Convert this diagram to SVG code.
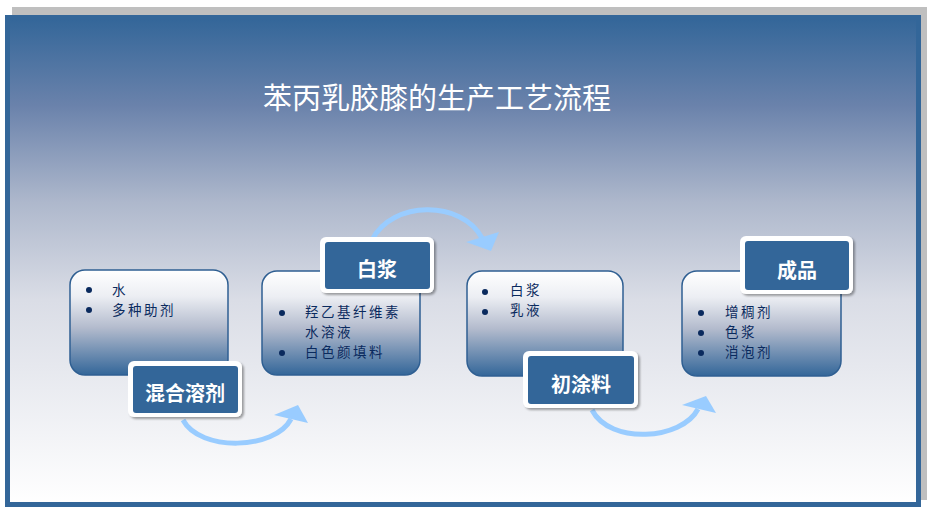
<svg xmlns="http://www.w3.org/2000/svg" width="927" height="512" viewBox="0 0 927 512">
<defs>
<linearGradient id="bg" x1="0" y1="0" x2="0" y2="1">
<stop offset="0" stop-color="#336699"/>
<stop offset="0.18" stop-color="#6a82ab"/>
<stop offset="0.38" stop-color="#aeb8cc"/>
<stop offset="0.58" stop-color="#dadde6"/>
<stop offset="1" stop-color="#ffffff"/>
</linearGradient>
<linearGradient id="box" x1="0" y1="0" x2="0" y2="1">
<stop offset="0" stop-color="#ffffff"/>
<stop offset="0.25" stop-color="#eceef3"/>
<stop offset="0.55" stop-color="#b3bbcd"/>
<stop offset="1" stop-color="#336699"/>
</linearGradient>
<filter id="sh" x="-10%" y="-10%" width="130%" height="130%">
<feDropShadow dx="2" dy="2" stdDeviation="1" flood-color="#000" flood-opacity="0.35"/>
</filter>
</defs>
<style>
.content{fill:url(#box);stroke:#2f5f92;stroke-width:1.5}
.lblout{fill:#ffffff;filter:url(#sh)}
.lblin{fill:#336699}
.lbl{font-family:"Noto Sans CJK SC",sans-serif;font-size:20px;font-weight:bold;fill:#ffffff;text-anchor:middle}
.item{font-family:"Noto Sans CJK SC",sans-serif;font-size:13.5px;letter-spacing:2.5px;fill:#0a2a5e}
.dot{fill:#0a2a5e}
.arc{fill:none;stroke:#99ccff;stroke-width:5}
.head{fill:#99ccff}
</style>
<rect x="12" y="7" width="915" height="493" fill="#bfbfbf"/>
<rect x="7.5" y="17.5" width="911" height="487" fill="url(#bg)" stroke="#336699" stroke-width="5"/>
<text x="437" y="109" font-family="Noto Sans CJK SC, sans-serif" font-size="29" fill="#ffffff" text-anchor="middle">苯丙乳胶膝的生产工艺流程</text>

<g id="connectors">
<path class="arc" d="M183,420 C200,452 275,450 291,419"/>
<polygon class="head" points="274,415 298,405 308,423"/>
<path class="arc" d="M372,240 C392,200 462,200 482,238"/>
<polygon class="head" points="466,242 499,232 491,251"/>
<path class="arc" d="M592,410 C610,445 682,440 698,409"/>
<polygon class="head" points="682,405 706,396 716,413"/>
</g>

<g id="node1">
<rect class="content" x="70" y="270" width="158" height="105" rx="15"/>
<circle class="dot" cx="89" cy="290" r="3"/>
<circle class="dot" cx="89" cy="310" r="3"/>
<text class="item" x="112" y="295">水</text>
<text class="item" x="112" y="315">多种助剂</text>
<rect class="lblout" x="128" y="361" width="114" height="56" rx="6"/>
<rect class="lblin" x="133" y="366" width="105" height="47" rx="3"/>
<text class="lbl" x="185" y="401">混合溶剂</text>
</g>

<g id="node2">
<rect class="content" x="262" y="271" width="158" height="104" rx="15"/>
<circle class="dot" cx="282" cy="313" r="3"/>
<circle class="dot" cx="282" cy="353" r="3"/>
<text class="item" x="305" y="317">羟乙基纤维素</text>
<text class="item" x="305" y="337">水溶液</text>
<text class="item" x="305" y="357">白色颜填料</text>
<rect class="lblout" x="320" y="237" width="114" height="56" rx="6"/>
<rect class="lblin" x="325" y="242" width="105" height="47" rx="3"/>
<text class="lbl" x="377" y="277">白浆</text>
</g>

<g id="node3">
<rect class="content" x="467" y="271" width="156" height="105" rx="15"/>
<circle class="dot" cx="485" cy="292" r="3"/>
<circle class="dot" cx="485" cy="312" r="3"/>
<text class="item" x="510" y="295">白浆</text>
<text class="item" x="510" y="315">乳液</text>
<rect class="lblout" x="523" y="351" width="115" height="57" rx="6"/>
<rect class="lblin" x="528" y="356" width="106" height="48" rx="3"/>
<text class="lbl" x="581" y="392">初涂料</text>
</g>

<g id="node4">
<rect class="content" x="682" y="271" width="159" height="105" rx="15"/>
<circle class="dot" cx="701" cy="313" r="3"/>
<circle class="dot" cx="701" cy="333" r="3"/>
<circle class="dot" cx="701" cy="353" r="3"/>
<text class="item" x="725" y="317">增稠剂</text>
<text class="item" x="725" y="337">色浆</text>
<text class="item" x="725" y="357">消泡剂</text>
<rect class="lblout" x="740" y="236" width="113" height="58" rx="6"/>
<rect class="lblin" x="745" y="241" width="104" height="49" rx="3"/>
<text class="lbl" x="797" y="278">成品</text>
</g>
</svg>
